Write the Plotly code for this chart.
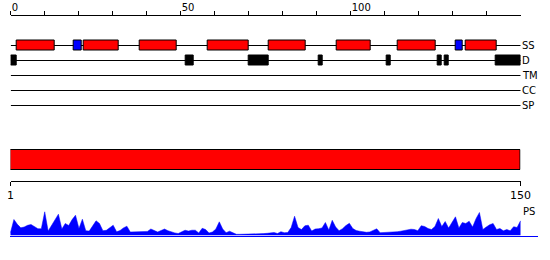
import plotly.graph_objects as go

# ---------------- data ----------------
SEQ_LEN = 150
TOP_TICKS = [0, 50, 100]
TOP_MINOR_TICKS = [10, 20, 30, 40, 60, 70, 80, 90, 110, 120, 130, 140]
BOTTOM_TICKS = [1, 150]
BOTTOM_TICK_LABELS = ["1", "150"]
TRACKS = ["SS", "D", "TM", "CC", "SP"]

helix_start = [1.65, 21.6, 37.8, 57.8, 75.9, 95.8, 113.7, 133.7]
helix_end = [12.9, 31.8, 48.7, 69.9, 86.8, 105.9, 125.0, 142.9]
strand_start = [18.6, 130.8]
strand_end = [20.9, 133.0]
disorder_start = [0.0, 51.6, 69.9, 90.7, 110.7, 125.6, 127.6, 142.7]
disorder_end = [1.8, 53.8, 75.9, 91.85, 111.8, 126.9, 128.9, 150.0]

domain_start = [1]
domain_end = [150]

ps_values = [
    3, 16, 11.2, 7.7, 8.5, 10.2, 11, 9, 6.8, 6.7,
    23.7, 4.5, 10, 16.7, 21.3, 6.5, 12, 10, 15.9, 20.3,
    7, 16.3, 4.7, 4.4, 9.6, 14.7, 12, 4.8, 5.2, 8,
    10.3, 3.7, 5, 7.6, 9.3, 3.5, 3.7, 3.7, 3.7, 3.7,
    4.1, 6.5, 5, 3.5, 5, 6.5, 4.8, 3.4, 2.6, 2,
    3.6, 5.3, 4.4, 5.3, 5.3, 2.5, 7.2, 6, 2.5, 3.5,
    6.5, 13.7, 6.5, 2.8, 4.3, 2.5, 1.2, 1.2, 1.2, 1.3,
    1.8, 1.6, 1.4, 1.6, 1.9, 2.2, 2.6, 3, 2, 3.8,
    2.8, 3, 8, 19.3, 8, 5.9, 9.7, 10.3, 4.5, 6.5,
    6.8, 7.5, 13, 5.5, 15.2, 8.5, 4.8, 6.8, 10, 12.2,
    7, 5, 4.3, 3.5, 3.2, 3.6, 4.8, 6.7, 2.8, 2.9,
    3, 3.1, 3.2, 3.8, 4.3, 4.8, 5.1, 6.3, 6, 4.8,
    9.8, 9, 7, 6, 9, 17, 9, 14, 7.5, 13.8,
    18.7, 7.5, 13, 12, 14.3, 8.5, 16.8, 23, 6, 8.5,
    10.8, 12, 6, 7, 4.7, 6, 4.7, 8.8, 8, 14.7,
]
residues = list(range(1, SEQ_LEN + 1))

# ---------------- layout helpers ----------------
W, H = 550, 260
FONT = "DejaVu Sans"


def py(px):
    return 1 - px / H


def px_x(px):
    return px / W


fig = go.Figure()

BOX_W = 0.67


def seg_bar(starts, ends, track, color):
    return go.Bar(
        orientation="h",
        y=[track] * len(starts),
        base=starts,
        x=[e - s for s, e in zip(starts, ends)],
        width=BOX_W,
        marker=dict(color=color, line=dict(color="black", width=1)),
        xaxis="x",
        yaxis="y",
        hoverinfo="skip",
    )


fig.add_trace(seg_bar(helix_start, helix_end, 0, "#ff0000"))
fig.add_trace(seg_bar(strand_start, strand_end, 0, "#0000ff"))
fig.add_trace(seg_bar(disorder_start, disorder_end, 1, "#000000"))

# big domain bar
fig.add_trace(go.Bar(
    orientation="h",
    y=[21] * len(domain_start),
    base=domain_start,
    x=[e - s for s, e in zip(domain_start, domain_end)],
    width=20,
    marker=dict(color="#ff0000", line=dict(color="black", width=1)),
    xaxis="x2",
    yaxis="y2",
    hoverinfo="skip",
))

# PS profile
fig.add_trace(go.Scatter(
    x=residues,
    y=ps_values,
    mode="lines",
    fill="tozeroy",
    fillcolor="#0000ff",
    line=dict(color="#0000ff", width=0.5),
    xaxis="x3",
    yaxis="y3",
    hoverinfo="skip",
))

shapes = []
for k, _ in enumerate(TRACKS):
    shapes.append(dict(type="line", xref="x", yref="y", x0=0, x1=SEQ_LEN,
                       y0=k, y1=k, line=dict(color="black", width=1),
                       layer="below"))

annotations = []
for k, name in enumerate(TRACKS):
    annotations.append(dict(x=SEQ_LEN, xref="x", y=k, yref="y", text=name,
                            showarrow=False, xanchor="left", yanchor="middle",
                            xshift=-1,
                            font=dict(family=FONT, size=10, color="black")))
annotations.append(dict(x=SEQ_LEN, xref="x2", y=py(211), yref="paper", text="PS",
                        showarrow=False, xanchor="left", yanchor="middle",
                        font=dict(family=FONT, size=10, color="black")))

ppr = (520.5 - 10.5) / (SEQ_LEN - 1)
r0 = 1 - 0.5 / ppr
r1 = 1 + (538 - 10.5) / ppr

fig.update_layout(
    width=W, height=H,
    margin=dict(l=0, r=0, t=0, b=0, pad=0),
    autosize=False,
    paper_bgcolor="white", plot_bgcolor="white",
    showlegend=False,
    barmode="overlay",
    bargap=0,
    shapes=shapes,
    annotations=annotations,
    xaxis=dict(domain=[px_x(10.7), px_x(520.7)], range=[0, SEQ_LEN], anchor="y",
               side="top", showline=True, linecolor="black", linewidth=1,
               ticks="outside", ticklen=4, tickcolor="black", tickwidth=1,
               tickmode="array", tickvals=TOP_TICKS,
               ticklabelposition="outside right",
               tickfont=dict(family=FONT, size=10, color="black"),
               minor=dict(tickmode="array", tickvals=TOP_MINOR_TICKS,
                          ticks="outside", ticklen=4, tickcolor="black",
                          tickwidth=1, showgrid=False),
               showgrid=False, zeroline=False, fixedrange=True, automargin=False),
    yaxis=dict(domain=[py(113), py(15.5)], range=[4.5, -2], visible=False,
               fixedrange=True, automargin=False),
    xaxis2=dict(domain=[px_x(10.5), px_x(520.5)], range=[1, SEQ_LEN], anchor="y2",
                side="bottom", showline=True, linecolor="black", linewidth=1,
                ticks="outside", ticklen=4, tickcolor="black", tickwidth=1,
                tickmode="array", tickvals=BOTTOM_TICKS, ticktext=BOTTOM_TICK_LABELS,
                tickfont=dict(family=FONT, size=11, color="black"),
                showgrid=False, zeroline=False, fixedrange=True, automargin=False),
    yaxis2=dict(domain=[py(181), py(145)], range=[0, 36], visible=False,
                fixedrange=True, automargin=False),
    xaxis3=dict(domain=[px_x(10), px_x(538)], range=[r0, r1], anchor="y3",
                showline=True, linecolor="#0000ff", linewidth=1,
                showticklabels=False, ticks="", showgrid=False, zeroline=False,
                fixedrange=True, automargin=False),
    yaxis3=dict(domain=[py(235.5), py(205.5)], range=[0, 30], visible=False,
                fixedrange=True, automargin=False),
)

fig.write_html("out.html")
